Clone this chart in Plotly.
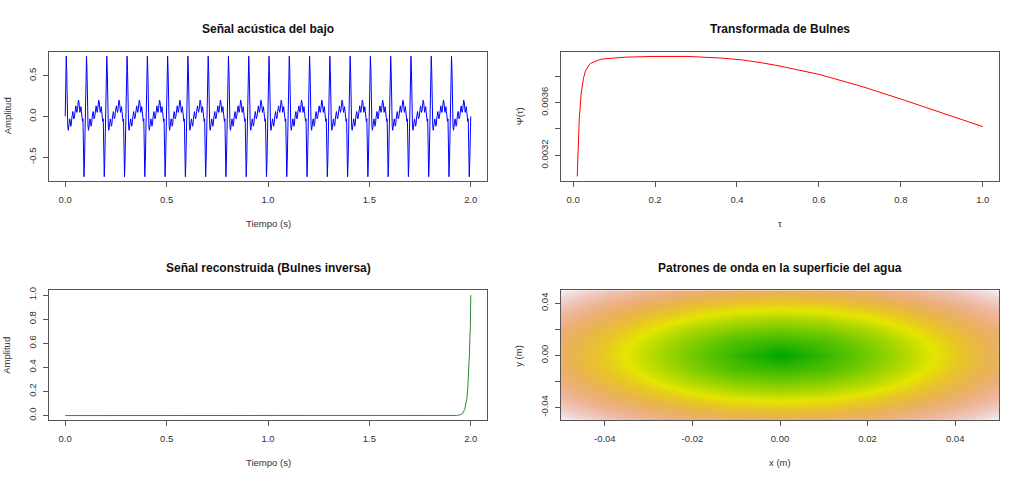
import colorsys
import numpy as np
import plotly.graph_objects as go

# --- data ---

# bass signal: one 0.1 s period (sampled every 2.5 ms), repeated 20 times
signal_step = 0.0025
signal_period = [0.00, 0.30, 0.74, 0.55, 0.05, -0.12, -0.17, -0.13, -0.06, -0.03,
                 -0.07, -0.12, -0.10, -0.02, 0.04, 0.06, 0.01, -0.03, -0.01, 0.06,
                 0.11, 0.13, 0.08, 0.05, 0.08, 0.15, 0.20, 0.18, 0.10, 0.05,
                 0.08, 0.12, 0.06, -0.02, -0.06, -0.03, -0.30, -0.74, -0.55, -0.15]
n_periods = 20

# Bulnes transform
tau = [0.01, 0.015, 0.02, 0.025, 0.03, 0.035, 0.04, 0.045, 0.05, 0.06, 0.07, 0.1,
       0.13, 0.2, 0.28, 0.36, 0.41, 0.46, 0.5, 0.6, 0.7, 0.8, 0.9, 1.0]
psi = [0.00304, 0.00348, 0.00368, 0.00378, 0.00384, 0.003868, 0.00389, 0.003902,
       0.00391, 0.00392, 0.00393, 0.00394, 0.003945, 0.00395, 0.00395, 0.003938,
       0.003925, 0.003902, 0.00388, 0.003814, 0.003727, 0.003627, 0.00352, 0.003418]

# reconstructed signal (inverse transform)
t_rec = [0.0, 1.90, 1.93, 1.95, 1.96, 1.97, 1.975, 1.98, 1.985, 1.99, 1.993, 1.996, 1.998, 2.0]
a_rec = [0.0, 0.0005, 0.001, 0.007, 0.018, 0.05, 0.082, 0.135, 0.22, 0.37, 0.50, 0.67, 0.74, 1.0]

# water surface pattern on an 11 x 11 grid
grid_x = [-0.05, -0.04, -0.03, -0.02, -0.01, 0.0, 0.01, 0.02, 0.03, 0.04, 0.05]
grid_y = [-0.05, -0.04, -0.03, -0.02, -0.01, 0.0, 0.01, 0.02, 0.03, 0.04, 0.05]
wave_z = [
    [7.07, 6.40, 5.83, 5.39, 5.10, 5.00, 5.10, 5.39, 5.83, 6.40, 7.07],
    [6.40, 5.66, 5.00, 4.47, 4.12, 4.00, 4.12, 4.47, 5.00, 5.66, 6.40],
    [5.83, 5.00, 4.24, 3.61, 3.16, 3.00, 3.16, 3.61, 4.24, 5.00, 5.83],
    [5.39, 4.47, 3.61, 2.83, 2.24, 2.00, 2.24, 2.83, 3.61, 4.47, 5.39],
    [5.10, 4.12, 3.16, 2.24, 1.41, 1.00, 1.41, 2.24, 3.16, 4.12, 5.10],
    [5.00, 4.00, 3.00, 2.00, 1.00, 0.00, 1.00, 2.00, 3.00, 4.00, 5.00],
    [5.10, 4.12, 3.16, 2.24, 1.41, 1.00, 1.41, 2.24, 3.16, 4.12, 5.10],
    [5.39, 4.47, 3.61, 2.83, 2.24, 2.00, 2.24, 2.83, 3.61, 4.47, 5.39],
    [5.83, 5.00, 4.24, 3.61, 3.16, 3.00, 3.16, 3.61, 4.24, 5.00, 5.83],
    [6.40, 5.66, 5.00, 4.47, 4.12, 4.00, 4.12, 4.47, 5.00, 5.66, 6.40],
    [7.07, 6.40, 5.83, 5.39, 5.10, 5.00, 5.10, 5.39, 5.83, 6.40, 7.07],
]

signal = signal_period * n_periods + [0.0]
t_sig = np.arange(len(signal)) * signal_step


# R-like terrain colours: green -> yellow -> tan -> near white
def terrain_scale(n=40):
    stops = []
    for i in range(n + 1):
        f = i / n
        if f <= 0.5:
            g = f / 0.5
            h, s, v = (4 - 2 * g) / 12, 1.0, 0.65 + 0.25 * g
        else:
            g = (f - 0.5) / 0.5
            h, s, v = (2 - 2 * g) / 12, 1 - g, 0.9 + 0.05 * g
        r, gr, b = colorsys.hsv_to_rgb(h, s, v)
        stops.append([f, f"rgb({int(r*255)},{int(gr*255)},{int(b*255)})"])
    return stops


FONT = "Liberation Sans, Arial, sans-serif"
fig = go.Figure()

fig.add_trace(go.Scatter(x=t_sig, y=signal, mode="lines",
                         line=dict(color="#0000FF", width=1), xaxis="x", yaxis="y"))
fig.add_trace(go.Scatter(x=tau, y=psi, mode="lines",
                         line=dict(color="#FF0000", width=1), xaxis="x2", yaxis="y2"))
fig.add_trace(go.Scatter(x=t_rec, y=a_rec, mode="lines",
                         line=dict(color="#2f8a2f", width=1), xaxis="x3", yaxis="y3"))
fig.add_trace(go.Heatmap(x=grid_x, y=grid_y, z=wave_z, zsmooth="best", zmin=0, zmax=7.07,
                         colorscale=terrain_scale(), showscale=False,
                         xaxis="x4", yaxis="y4"))

axis_style = dict(showline=True, mirror=True, linecolor="#555", linewidth=1,
                  ticks="outside", ticklen=5, tickcolor="#555", tickwidth=1,
                  showgrid=False, zeroline=False,
                  tickfont=dict(family=FONT, size=9.5, color="#333"))
x_style = dict(axis_style, ticklabelstandoff=4)
y_style = dict(axis_style, ticklabelstandoff=3, tickangle=-90)

left_dom = [49 / 1024, 487 / 1024]
right_dom = [561 / 1024, 999 / 1024]
top_dom = [1 - 179.3 / 481, 1 - 49 / 481]
bot_dom = [1 - 420 / 481, 1 - 289 / 481]

fig.update_layout(
    width=1024, height=481,
    margin=dict(l=0, r=0, t=0, b=0),
    paper_bgcolor="white", plot_bgcolor="white",
    showlegend=False,
    xaxis=dict(x_style, domain=left_dom, anchor="y", range=[-0.08, 2.08],
               tickvals=[0, 0.5, 1.0, 1.5, 2.0], ticktext=["0.0", "0.5", "1.0", "1.5", "2.0"]),
    yaxis=dict(y_style, domain=top_dom, anchor="x", range=[-0.795, 0.795],
               tickvals=[-0.5, 0, 0.5], ticktext=["-0.5", "0.0", "0.5"]),
    xaxis2=dict(x_style, domain=right_dom, anchor="y2", range=[-0.0296, 1.0396],
                tickvals=[0, 0.2, 0.4, 0.6, 0.8, 1.0],
                ticktext=["0.0", "0.2", "0.4", "0.6", "0.8", "1.0"]),
    yaxis2=dict(y_style, domain=top_dom, anchor="x2", range=[0.003004, 0.003986],
                tickvals=[0.0032, 0.0034, 0.0036, 0.0038], ticktext=["0.0032", "", "0.0036", ""]),
    xaxis3=dict(x_style, domain=left_dom, anchor="y3", range=[-0.08, 2.08],
                tickvals=[0, 0.5, 1.0, 1.5, 2.0], ticktext=["0.0", "0.5", "1.0", "1.5", "2.0"]),
    yaxis3=dict(y_style, domain=bot_dom, anchor="x3", range=[-0.04, 1.04],
                tickvals=[0, 0.2, 0.4, 0.6, 0.8, 1.0],
                ticktext=["0.0", "0.2", "0.4", "0.6", "0.8", "1.0"]),
    xaxis4=dict(x_style, domain=right_dom, anchor="y4", range=[-0.05, 0.05],
                tickvals=[-0.04, -0.02, 0, 0.02, 0.04],
                ticktext=["-0.04", "-0.02", "0.00", "0.02", "0.04"]),
    yaxis4=dict(y_style, domain=bot_dom, anchor="x4", range=[-0.05, 0.05],
                tickvals=[-0.04, -0.02, 0, 0.02, 0.04], ticktext=["-0.04", "", "0.00", "", "0.04"]),
)

# titles and axis labels as annotations (R style placement)
titles = [
    ("Señal acústica del bajo", 268 / 1024, 1 - 26 / 481),
    ("Transformada de Bulnes", 780 / 1024, 1 - 26 / 481),
    ("Señal reconstruida (Bulnes inversa)", 268 / 1024, 1 - 267 / 481),
    ("Patrones de onda en la superficie del agua", 780 / 1024, 1 - 267 / 481),
]
for text, x, y in titles:
    fig.add_annotation(text=f"<b>{text}</b>", x=x, y=y, xref="paper", yref="paper",
                       xanchor="center", yanchor="middle", showarrow=False,
                       font=dict(family=FONT, size=12, color="#111"))

xlabels = [
    ("Tiempo (s)", 268 / 1024, 1 - 222 / 481),
    ("τ", 780 / 1024, 1 - 222 / 481),
    ("Tiempo (s)", 268 / 1024, 1 - 462 / 481),
    ("x (m)", 780 / 1024, 1 - 462 / 481),
]
for text, x, y in xlabels:
    fig.add_annotation(text=text, x=x, y=y, xref="paper", yref="paper",
                       xanchor="center", yanchor="middle", showarrow=False,
                       font=dict(family=FONT, size=9.5, color="#333"))

ylabels = [
    ("Amplitud", 7 / 1024, 1 - 114 / 481),
    ("Ψ(τ)", 519 / 1024, 1 - 114 / 481),
    ("Amplitud", 7 / 1024, 1 - 355 / 481),
    ("y (m)", 519 / 1024, 1 - 355 / 481),
]
for text, x, y in ylabels:
    fig.add_annotation(text=text, x=x, y=y, xref="paper", yref="paper", textangle=-90,
                       xanchor="center", yanchor="middle", showarrow=False,
                       font=dict(family=FONT, size=9.5, color="#333"))

# drop the browser's default body margin so the figure sits at (0, 0)
fig.write_html("out.html", config={"displayModeBar": False},
               post_script="document.body.style.margin='0';")
